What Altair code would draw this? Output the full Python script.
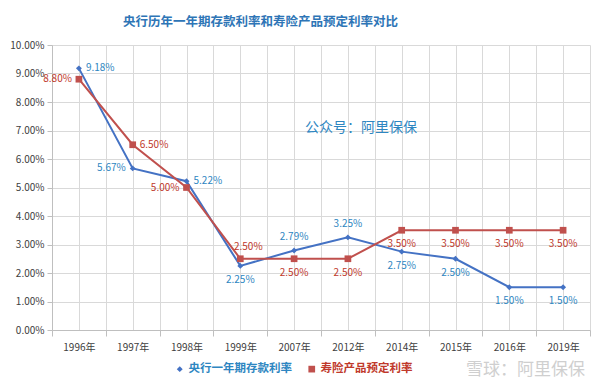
import json
import altair as alt
import pandas as pd

categories = ["1996年", "1997年", "1998年", "1999年", "2007年", "2012年", "2014年", "2015年", "2016年", "2019年"]
series_names = ["央行一年期存款利率", "寿险产品预定利率"]
deposit_rate = [9.18, 5.67, 5.22, 2.25, 2.79, 3.25, 2.75, 2.50, 1.50, 1.50]
insurance_rate = [8.80, 6.50, 5.00, 2.50, 2.50, 2.50, 3.50, 3.50, 3.50, 3.50]
deposit_label_side = ["right", "left", "right", "below", "above", "above", "below", "below", "below", "below"]
insurance_label_side = ["left", "right", "left", "aboveright", "below", "below", "below", "below", "below", "below"]

BLUE_LINE = "#4472C4"
RED_LINE = "#C0504D"
BLUE_TEXT = "#2E86C1"
RED_TEXT = "#C0392B"
FONT = "Noto Sans CJK SC"

rows = []
for s, vals, sides in [(series_names[0], deposit_rate, deposit_label_side),
                       (series_names[1], insurance_rate, insurance_label_side)]:
    for i, (c, v, side) in enumerate(zip(categories, vals, sides)):
        rows.append({"idx": i, "cat": c, "series": s, "value": v, "side": side})
df = pd.DataFrame(rows)

cats_js = json.dumps(categories, ensure_ascii=False)
x_values = [i / 2 for i in range(-1, 2 * len(categories))]

x_enc = alt.X(
    "idx:Q",
    scale=alt.Scale(domain=[-0.5, len(categories) - 0.5], nice=False, zero=False),
    axis=alt.Axis(
        title=None,
        values=x_values,
        tickCount=100,
        labelExpr=f"datum.value % 1 === 0 ? {cats_js}[datum.value] : ''",
        labelOverlap=False,
        labelFlush=False,
        labelFont=FONT,
        labelFontSize=10,
        labelColor="#404040",
        labelPadding=6,
        tickSize=6,
        tickColor={"condition": {"test": "datum.value % 1 === 0", "value": "transparent"}, "value": "#BFBFBF"},
        domainColor="#BFBFBF",
        gridColor="#D9D9D9",
        grid=True,
    ),
)
y_enc = alt.Y(
    "value:Q",
    scale=alt.Scale(domain=[0, 10], nice=False),
    axis=alt.Axis(
        title=None,
        values=list(range(0, 11)),
        tickCount=100,
        labelOverlap=False,
        labelExpr="format(datum.value, '.2f') + '%'",
        labelFont=FONT,
        labelFontSize=10,
        labelColor="#404040",
        tickSize=5,
        tickColor="#BFBFBF",
        domainColor="#BFBFBF",
        gridColor="#D9D9D9",
        labelPadding=3,
    ),
)
sym_color = {"expr": f"datum.value === '{series_names[0]}' ? '{BLUE_LINE}' : '{RED_LINE}'"}
BAR = "M-1,-0.11L1,-0.11L1,0.11L-1,0.11Z"
DIAMOND = "M0,-0.32L0.32,0L0,0.32L-0.32,0Z"
SQUARE = "M-0.25,-0.25L0.25,-0.25L0.25,0.25L-0.25,0.25Z"

base = alt.Chart(df)

lines = base.mark_line(strokeWidth=2).encode(
    x=x_enc,
    y=y_enc,
    stroke=alt.Stroke(
        "series:N",
        scale=alt.Scale(domain=series_names, range=[BLUE_LINE, RED_LINE]),
        legend=alt.Legend(
            title=None,
            orient="none",
            direction="horizontal",
            legendX=122,
            legendY=318,
            labelFont=FONT,
            labelFontSize=11.5,
            labelFontWeight="bold",
            labelColor={"expr": f"datum.value === '{series_names[0]}' ? '{BLUE_TEXT}' : '{RED_TEXT}'"},
            symbolType={"expr": f"datum.value === '{series_names[0]}' ? '{BAR}{DIAMOND}' : '{BAR}{SQUARE}'"},
            symbolFillColor=sym_color,
            symbolStrokeColor=sym_color,
            symbolOpacity=1,
            symbolSize=300,
            symbolStrokeWidth=0,
            columnPadding=14,
            labelOffset=3,
        ),
    ),
)

points = base.mark_point(filled=True, opacity=1, strokeWidth=0).encode(
    x="idx:Q",
    y="value:Q",
    fill=alt.Fill("series:N", scale=alt.Scale(domain=series_names, range=[BLUE_LINE, RED_LINE]), legend=None),
    shape=alt.Shape("series:N", scale=alt.Scale(domain=series_names, range=["diamond", "square"]), legend=None),
    size=alt.Size("series:N", scale=alt.Scale(domain=series_names, range=[35, 45]), legend=None),
)

label_fill = alt.Fill("series:N", scale=alt.Scale(domain=series_names, range=[BLUE_TEXT, RED_TEXT]), legend=None)
placements = {
    "right": dict(align="left", baseline="middle", dx=7, dy=0),
    "left": dict(align="right", baseline="middle", dx=-7, dy=0),
    "above": dict(align="center", baseline="middle", dx=0, dy=-13),
    "below": dict(align="center", baseline="middle", dx=0, dy=14),
    "aboveright": dict(align="center", baseline="middle", dx=8, dy=-12),
}
label_layers = []
for side, opts in placements.items():
    label_layers.append(
        base.transform_filter(alt.datum.side == side)
        .transform_calculate(label="format(datum.value, '.2f') + '%'")
        .mark_text(font=FONT, fontSize=10, **opts)
        .encode(x="idx:Q", y="value:Q", text="label:N", fill=label_fill)
    )

watermark1 = alt.Chart(pd.DataFrame({"t": ["公众号：阿里保保"]})).mark_text(
    font=FONT, fontSize=14, color="#2E86C1", align="center", baseline="middle"
).encode(x=alt.value(309), y=alt.value(83), text="t:N")

watermark2 = alt.Chart(pd.DataFrame({"t": ["雪球：阿里保保"]})).mark_text(
    font=FONT, fontSize=17, color="#CFCFCF", align="right", baseline="middle"
).encode(x=alt.value(533), y=alt.value(325), text="t:N")

chart = alt.layer(lines, points, *label_layers, watermark1, watermark2).resolve_scale(
    fill="independent"
).properties(
    width=538,
    height=285,
    autosize=alt.AutoSizeParams(type="none"),
    padding={"left": 44, "top": 37, "right": 2, "bottom": 52},
    title=alt.TitleParams(
        "央行历年一年期存款利率和寿险产品预定利率对比",
        font=FONT,
        fontSize=12.5,
        fontWeight="bold",
        color="#2E75B6",
        anchor="start",
        frame="group",
        dx=71,
        offset=12,
    ),
).configure_view(stroke=None)

chart.save("out.html", embed_options={"renderer": "svg", "actions": False})
